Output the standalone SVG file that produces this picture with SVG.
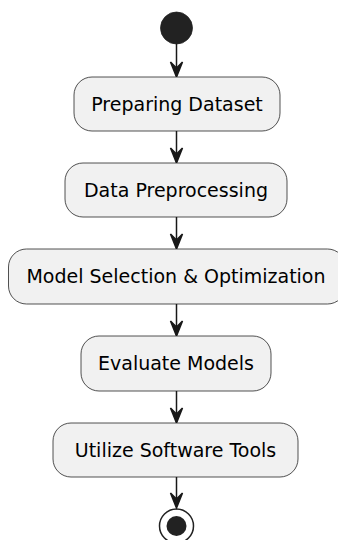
<svg xmlns="http://www.w3.org/2000/svg" width="338" height="540" viewBox="0 0 338 540">
<defs>
<style>
.box{fill:#F1F1F1;stroke:#181818;stroke-width:0.75}
.lbl{font-family:"DejaVu Sans",sans-serif;font-size:19px;fill:#000;text-anchor:middle}
.ln{stroke:#181818;stroke-width:1.5;fill:none}
.ah{fill:#181818;stroke:#181818;stroke-width:1.5}
</style>
</defs>
<rect width="338" height="540" fill="#FFFFFF"/>
<g id="start"><circle cx="176.5" cy="28" r="16" fill="#222222" stroke="#222222" stroke-width="0.75"/></g>
<g id="connectors">
<line class="ln" x1="176.5" y1="44" x2="176.5" y2="76"/>
<polygon class="ah" points="170.5,62 176.5,77 182.5,62 176.5,68"/>
<line class="ln" x1="176.5" y1="131" x2="176.5" y2="162"/>
<polygon class="ah" points="170.5,148 176.5,163 182.5,148 176.5,154"/>
<line class="ln" x1="176.5" y1="217" x2="176.5" y2="247"/>
<polygon class="ah" points="170.5,234 176.5,249 182.5,234 176.5,240"/>
<line class="ln" x1="176.5" y1="304" x2="176.5" y2="335"/>
<polygon class="ah" points="170.5,321 176.5,336 182.5,321 176.5,327"/>
<line class="ln" x1="176.5" y1="391" x2="176.5" y2="422"/>
<polygon class="ah" points="170.5,408 176.5,423 182.5,408 176.5,414"/>
<line class="ln" x1="176.5" y1="477" x2="176.5" y2="506"/>
<polygon class="ah" points="170.5,493 176.5,508 182.5,493 176.5,499"/>
</g>
<g id="n1"><rect class="box" x="74" y="77" width="206" height="54" rx="18"/><text class="lbl" x="177" y="110.5">Preparing Dataset</text></g>
<g id="n2"><rect class="box" x="65" y="163" width="222" height="54" rx="18"/><text class="lbl" x="176" y="196.5">Data Preprocessing</text></g>
<g id="n3"><rect class="box" x="8.5" y="249" width="337" height="55" rx="18"/><text class="lbl" x="176" y="283">Model Selection &amp; Optimization</text></g>
<g id="n4"><rect class="box" x="81" y="336" width="190" height="55" rx="18"/><text class="lbl" x="176" y="370">Evaluate Models</text></g>
<g id="n5"><rect class="box" x="53" y="423" width="245" height="54" rx="18"/><text class="lbl" x="175.5" y="456.5">Utilize Software Tools</text></g>
<g id="end"><circle cx="176.5" cy="526" r="17" fill="none" stroke="#222222" stroke-width="1.5"/><circle cx="176.5" cy="526" r="10" fill="#222222"/></g>
</svg>
